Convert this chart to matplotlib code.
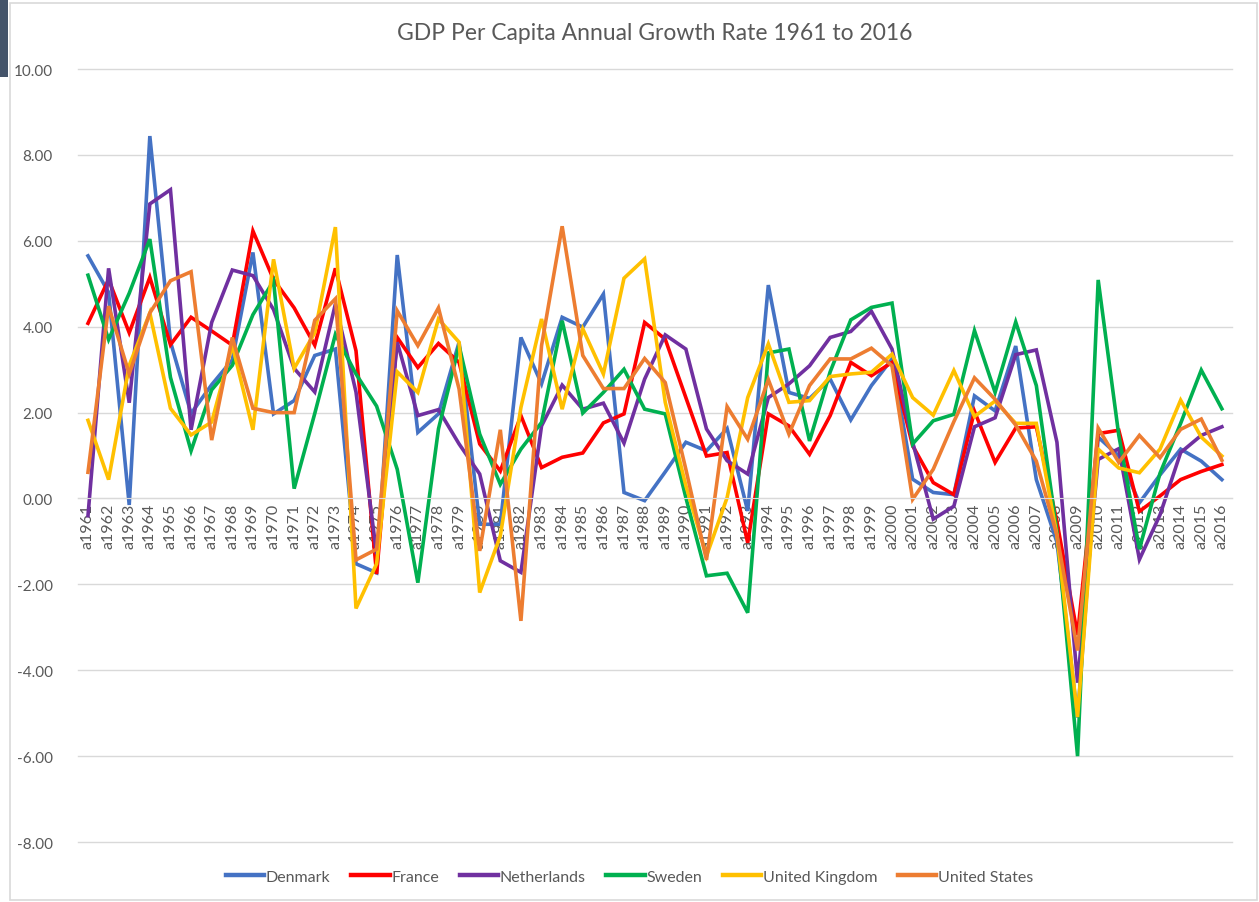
import numpy as np
import matplotlib
matplotlib.use("Agg")
import matplotlib.pyplot as plt
from matplotlib.patches import Rectangle

plt.rcParams['font.family'] = ['Lato', 'DejaVu Sans']

years = [f"a{y}" for y in range(1961, 2017)]

denmark = [5.65, 4.8, -0.15, 8.44, 3.65, 1.98, 2.65, 3.23, 5.73, 1.97, 2.28, 3.33, 3.48, -1.52, -1.73,
           5.67, 1.54, 1.97, 3.64, -0.6, -0.6, 3.75, 2.67, 4.22, 3.99, 4.76, 0.14, -0.05,
           0.62, 1.31, 1.11, 1.63, -0.29, 4.97, 2.47, 2.33, 2.78, 1.83, 2.63, 3.25, 0.45, 0.14,
           0.09, 2.39, 2.04, 3.55, 0.44, -1.02, -5.1, 1.43, 0.99, -0.1, 0.55, 1.15, 0.87, 0.44]
france = [4.08, 5.1, 3.86, 5.15, 3.58, 4.22, 3.9, 3.57, 6.23, 5.1, 4.44, 3.57, 5.36, 3.44, -1.76,
          3.75, 3.05, 3.61, 3.17, 1.27, 0.64, 1.93, 0.72, 0.96, 1.06, 1.76, 1.97, 4.1,
          3.71, 2.35, 0.99, 1.07, -1.03, 1.97, 1.69, 1.03, 1.93, 3.17, 2.86, 3.17, 1.23, 0.37,
          0.09, 2.03, 0.84, 1.64, 1.67, -0.54, -3.18, 1.51, 1.59, -0.3, 0.06, 0.44, 0.63, 0.79]
netherlands = [-0.4, 5.36, 2.23, 6.86, 7.19, 1.6, 4.1, 5.32, 5.19, 4.4, 3.03, 2.48, 4.53, 2.48, -1.3,
               3.64, 1.93, 2.07, 1.27, 0.57, -1.45, -1.72, 1.69, 2.64, 2.08, 2.22, 1.29, 2.78,
               3.81, 3.48, 1.62, 0.88, 0.57, 2.35, 2.67, 3.09, 3.75, 3.89, 4.36, 3.48, 1.31, -0.48,
               -0.18, 1.67, 1.88, 3.35, 3.46, 1.31, -4.29, 0.91, 1.16, -1.42, -0.38, 1.07, 1.47, 1.67]
sweden = [5.2, 3.7, 4.78, 6.04, 2.82, 1.11, 2.53, 3.1, 4.28, 5.07, 0.23, 1.98, 3.82, 2.9, 2.15,
          0.68, -1.96, 1.62, 3.56, 1.5, 0.33, 1.15, 1.77, 4.14, 1.99, 2.47, 3.01, 2.08,
          1.97, 0.02, -1.8, -1.74, -2.66, 3.39, 3.48, 1.34, 2.95, 4.16, 4.45, 4.55, 1.27, 1.81,
          1.96, 3.91, 2.47, 4.11, 2.63, -0.78, -6.0, 5.09, 1.47, -1.18, 0.59, 1.75, 2.99, 2.09]
uk = [1.82, 0.44, 3.1, 4.32, 2.1, 1.48, 1.78, 3.57, 1.6, 5.57, 3.03, 3.86, 6.32, -2.56, -1.52,
      2.95, 2.47, 4.18, 3.64, -2.19, -0.87, 2.12, 4.18, 2.08, 3.95, 2.9, 5.13, 5.58,
      2.24, 0.3, -1.34, 0.02, 2.35, 3.6, 2.24, 2.28, 2.84, 2.9, 2.94, 3.36, 2.35, 1.94,
      2.98, 1.91, 2.27, 1.75, 1.75, -0.86, -5.09, 1.15, 0.71, 0.6, 1.15, 2.29, 1.43, 0.99]
us = [0.61, 4.48, 2.9, 4.32, 5.07, 5.28, 1.36, 3.75, 2.1, 2.0, 2.0, 4.15, 4.65, -1.43, -1.18,
      4.37, 3.56, 4.44, 2.55, -1.22, 1.6, -2.85, 3.56, 6.34, 3.33, 2.56, 2.56, 3.26,
      2.7, 0.68, -1.43, 2.14, 1.38, 2.77, 1.5, 2.63, 3.25, 3.25, 3.5, 3.09, -0.02, 0.68,
      1.79, 2.81, 2.31, 1.71, 0.87, -0.86, -3.54, 1.64, 0.84, 1.47, 0.95, 1.61, 1.85, 0.89]

series = [("Denmark", denmark, "#4472C4"),
          ("France", france, "#FF0000"),
          ("Netherlands", netherlands, "#7030A0"),
          ("Sweden", sweden, "#00B050"),
          ("United Kingdom", uk, "#FFC000"),
          ("United States", us, "#ED7D31")]

txt = "#595959"
grid = "#D9D9D9"

fig = plt.figure(figsize=(12.59, 9.03), dpi=100)
ax = fig.add_axes([0.0617, 0.0664, 0.917, 0.856])

x = np.arange(len(years))
for name, vals, col in series:
    ax.plot(x, vals, color=col, lw=2.6, label=name, solid_joinstyle="miter")

ax.set_xlim(-0.5, len(years) - 0.5)
ax.set_ylim(-8, 10)
for s in ["top", "right", "left"]:
    ax.spines[s].set_visible(False)
# x axis crosses at zero, labels hang below it
ax.spines["bottom"].set_position(("data", 0))
ax.spines["bottom"].set_color(grid)

ax.set_yticks(np.arange(-8, 10.1, 2))
ax.yaxis.set_major_formatter(matplotlib.ticker.FormatStrFormatter("%.2f"))
ax.grid(axis="y", color=grid, lw=1)
ax.set_xticks(x)
ax.set_xticklabels(years, rotation=90)
ax.tick_params(axis="x", length=0, labelsize=11.5, labelcolor=txt, pad=3)
ax.tick_params(axis="y", length=0, labelsize=11, labelcolor=txt, pad=18)
for gl in ax.yaxis.get_gridlines():
    gl.set_clip_on(False)

ax.set_title("GDP Per Capita Annual Growth Rate 1961 to 2016", fontsize=16.5, color=txt, pad=22)

leg = fig.legend(loc="center", bbox_to_anchor=(0.5, 1 - 878 / 903), ncol=6, frameon=False,
                 fontsize=11.5, handlelength=2.4, handletextpad=0.1, columnspacing=1.3,
                 labelcolor=txt)
for h in leg.legend_handles:
    h.set_linewidth(3.2)

# chart border and dark strip from the screenshot
fig.patches.append(Rectangle((10 / 1259, 0.002), 1 - 12 / 1259, 1 - 6 / 903, transform=fig.transFigure,
                             fill=False, edgecolor=grid, lw=1.2))
fig.patches.append(Rectangle((0, 1 - 78 / 903), 8 / 1259, 78 / 903, transform=fig.transFigure,
                             color="#44546A", lw=0))

fig.savefig("out.png", dpi=100)
